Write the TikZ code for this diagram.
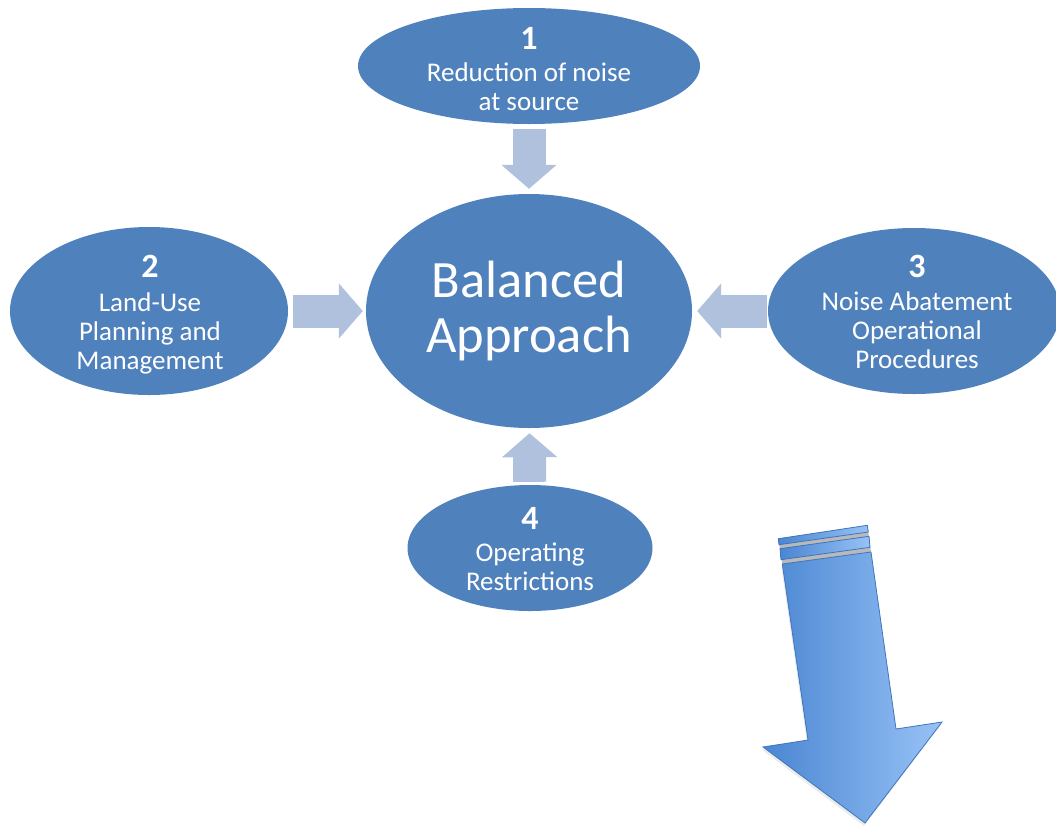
\documentclass[tikz,border=0pt]{standalone}
\usepackage{fontspec}
\setmainfont{Carlito}
\usetikzlibrary{arrows.meta,shapes.geometric}
\definecolor{bubbleblue}{RGB}{79,129,189}
\definecolor{arrowgrey}{RGB}{176,193,222}
\definecolor{bigdark}{RGB}{74,134,210}
\definecolor{biglight}{RGB}{152,194,246}
\definecolor{bigedge}{RGB}{62,118,190}
\tikzset{
	bubble/.style={ellipse,fill=bubbleblue,inner sep=0pt},
	bubbletext/.style={text=white,align=center,inner sep=0pt,font=\fontsize{27}{29}\selectfont},
	blockarrow/.style={draw=arrowgrey,line width=33pt,-{Triangle[width=54pt,length=24pt]}},
}
\newcommand{\bubblenum}[1]{{\fontsize{34}{34}\selectfont\bfseries #1}}
\begin{document}
\begin{tikzpicture}[x=1pt,y=-1pt]
			\useasboundingbox (0,0) rectangle (1056,825);
			\node[bubble,minimum width=342pt,minimum height=116pt] (source) at (529,66) {};
			\node[bubble,minimum width=278pt,minimum height=168pt] (landuse) at (149,311) {};
			\node[bubble,minimum width=292pt,minimum height=166pt] (abatement) at (914,311) {};
			\node[bubble,minimum width=245pt,minimum height=126pt] (restrict) at (530,548) {};
			\node[bubble,minimum width=326pt,minimum height=234pt] (balanced) at (529,311) {};
			\node[bubbletext] (sourcetext) at (529,69) {\bubblenum{1}\\[3pt] Reduction of noise\\ at source};
			\node[bubbletext] (landusetext) at (150,315) {\bubblenum{2}\\[5pt] Land-Use\\ Planning and\\ Management};
			\node[bubbletext] (abatementtext) at (917,312) {\bubblenum{3}\\[4pt] Noise Abatement\\ Operational\\ Procedures};
			\node[bubbletext] (restricttext) at (530,549) {\bubblenum{4}\\[3pt] Operating\\ Restrictions};
			\node[bubbletext,font=\fontsize{52.5}{55}\selectfont] (balancedtext) at (529,311) {Balanced\\ Approach};
			\draw[blockarrow,shorten <=5pt,shorten >=5pt] (source) -- (balanced);
			\draw[blockarrow,shorten <=5pt,shorten >=3pt] (landuse) -- (balanced);
			\draw[blockarrow,shorten <=1pt,shorten >=5pt] (abatement) -- (balanced);
			\draw[blockarrow,shorten <=3pt,shorten >=5pt] (restrict) -- (balanced);
			\fill[black,opacity=0.08,xshift=-1pt,yshift=-3pt] (782.3,564) -- (871,552) -- (896,729) -- (942,722) -- (865,823) -- (763,747) -- (808,740) -- cycle;
			\fill[gray!55] (778.3,538.7) -- (867.3,525.3) -- (871,552) -- (782.3,564) -- cycle;
			\shadedraw[left color=bigdark,right color=biglight,draw=bigedge,line width=0.8pt] (778.3,538.7) -- (867.3,525.3) -- (868.3,532) -- (779,544.7) -- cycle;
			\shadedraw[left color=bigdark,right color=biglight,draw=bigedge,line width=0.8pt] (780,548.7) -- (869,536.3) -- (870,547.3) -- (781,559.7) -- cycle;
			\shadedraw[left color=bigdark,right color=biglight,draw=bigedge,line width=0.8pt] (782.3,564) -- (871,552) -- (896,729) -- (942,722) -- (865,823) -- (763,747) -- (808,740) -- cycle;
		\end{tikzpicture}
\end{document}
